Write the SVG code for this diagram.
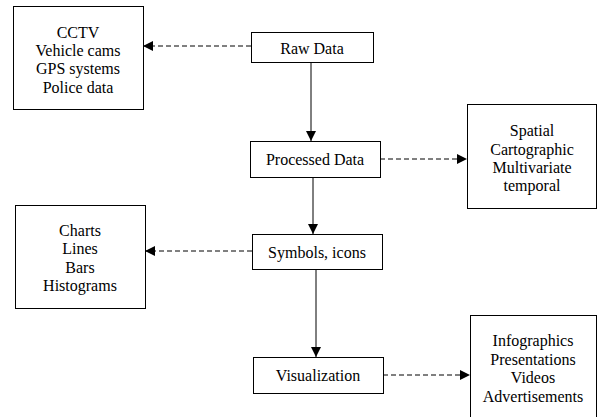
<svg xmlns="http://www.w3.org/2000/svg" width="597" height="417" viewBox="0 0 597 417">
<defs>
<style>
.box{fill:#fff;stroke:#000;stroke-width:1}
.t{font-family:'Liberation Serif','Times New Roman',serif;font-size:16px;fill:#000;text-anchor:middle;dominant-baseline:central}
.solid{stroke:#000;stroke-width:1;fill:none}
.dash{stroke:#000;stroke-width:1;fill:none;stroke-dasharray:5,3}
</style>
<marker id="ah" viewBox="0 0 10 10" refX="10" refY="5" markerWidth="10" markerHeight="10" markerUnits="userSpaceOnUse" orient="auto">
<path d="M0,0 L10,5 L0,10 Z" fill="#000"/>
</marker>
</defs>
<rect width="597" height="417" fill="#fff"/>
<g id="connectors">
<line class="dash" x1="251" y1="46" x2="143" y2="46" marker-end="url(#ah)"/>
<line class="solid" x1="311" y1="62" x2="311" y2="141" marker-end="url(#ah)"/>
<line class="dash" x1="380" y1="159" x2="467" y2="159" marker-end="url(#ah)"/>
<line class="solid" x1="313" y1="177" x2="313" y2="234" marker-end="url(#ah)"/>
<line class="dash" x1="252" y1="251" x2="145" y2="251" marker-end="url(#ah)"/>
<line class="solid" x1="316" y1="269" x2="316" y2="357" marker-end="url(#ah)"/>
<line class="dash" x1="383" y1="375" x2="470" y2="375" marker-end="url(#ah)"/>
</g>
<g id="sources">
<rect class="box" x="13.5" y="6.5" width="130" height="103"/>
<text class="t" x="78" y="32">CCTV</text>
<text class="t" x="78" y="50">Vehicle cams</text>
<text class="t" x="78" y="68">GPS systems</text>
<text class="t" x="78" y="87">Police data</text>
</g>
<g id="raw">
<rect class="box" x="251.5" y="32.5" width="122" height="30"/>
<text class="t" x="312" y="48">Raw Data</text>
</g>
<g id="processed">
<rect class="box" x="250.5" y="141.5" width="130" height="36"/>
<text class="t" x="315" y="159">Processed Data</text>
</g>
<g id="types">
<rect class="box" x="467.5" y="104.5" width="129" height="104"/>
<text class="t" x="532" y="130">Spatial</text>
<text class="t" x="532" y="149">Cartographic</text>
<text class="t" x="532" y="167">Multivariate</text>
<text class="t" x="532" y="185">temporal</text>
</g>
<g id="symbols">
<rect class="box" x="252.5" y="234.5" width="130" height="35"/>
<text class="t" x="317" y="252">Symbols, icons</text>
</g>
<g id="charts">
<rect class="box" x="15.5" y="205.5" width="130" height="103"/>
<text class="t" x="80" y="230">Charts</text>
<text class="t" x="80" y="248">Lines</text>
<text class="t" x="80" y="267">Bars</text>
<text class="t" x="80" y="285">Histograms</text>
</g>
<g id="visualization">
<rect class="box" x="253.5" y="357.5" width="130" height="36"/>
<text class="t" x="318" y="375">Visualization</text>
</g>
<g id="outputs">
<rect class="box" x="470.5" y="315.5" width="126" height="110"/>
<text class="t" x="533" y="340">Infographics</text>
<text class="t" x="533" y="359">Presentations</text>
<text class="t" x="533" y="377">Videos</text>
<text class="t" x="533" y="396">Advertisements</text>
</g>
</svg>
